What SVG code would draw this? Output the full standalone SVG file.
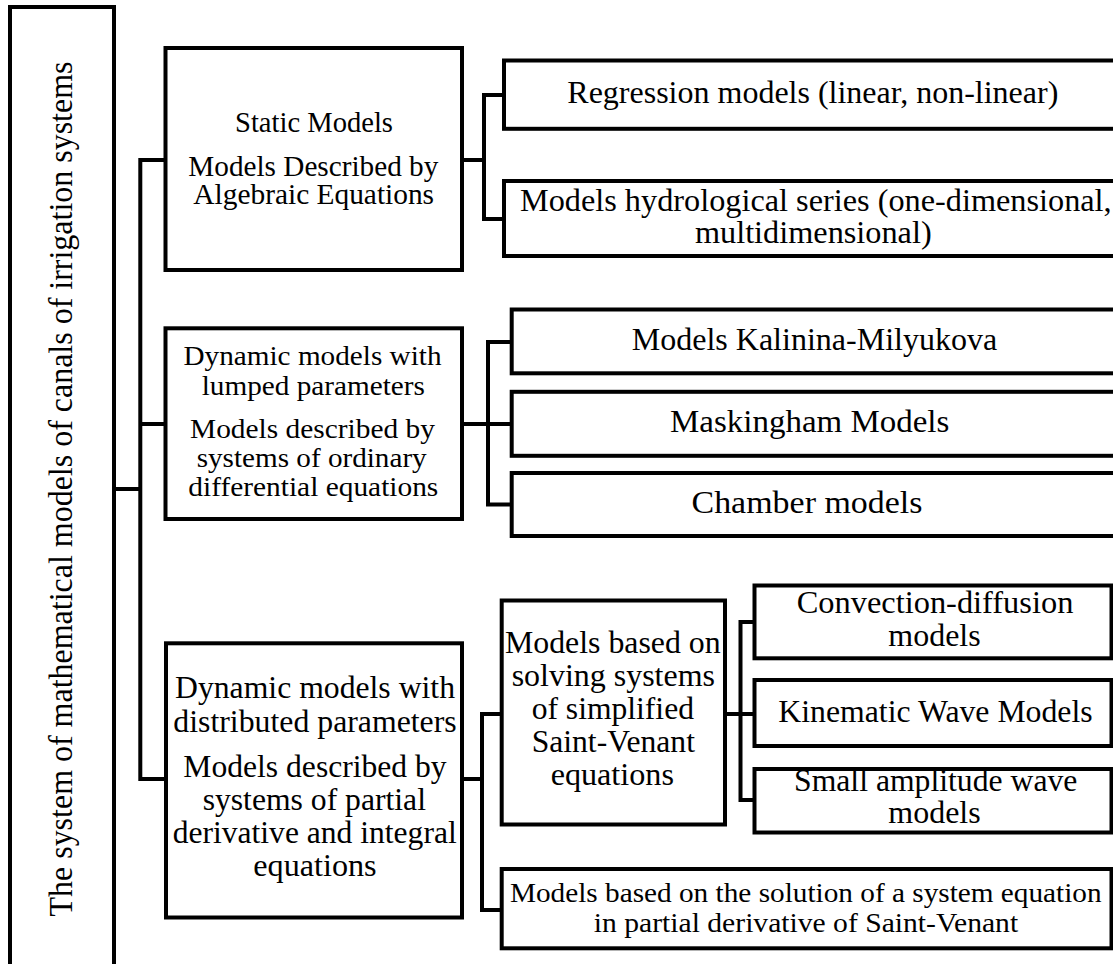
<svg xmlns="http://www.w3.org/2000/svg" width="1113" height="964" viewBox="0 0 1113 964">
<style>
.box{fill:#fff;stroke:#000;stroke-width:4;}
.ln{fill:none;stroke:#000;stroke-width:4;stroke-linejoin:miter;}
.t{fill:#000;text-anchor:middle;font-family:"Liberation Serif",Tinos,"Noto Serif","DejaVu Serif",FreeSerif,Times,serif;}
.s28{font-size:28.5px;}
.s29{font-size:28px;}
.s31{font-size:31px;}
.s32{font-size:32px;}
</style>
<rect width="1113" height="964" fill="#fff"/>
<g id="connectors">
<path class="ln" d="M114 489 H140.3"/>
<path class="ln" d="M165.5 160 H140.3 V779 H166"/>
<path class="ln" d="M140.3 424 H165.5"/>
<path class="ln" d="M462 160 H484"/>
<path class="ln" d="M504 95 H484 V219 H504"/>
<path class="ln" d="M462 424 H511.7"/>
<path class="ln" d="M511.7 342 H488 V504.5 H511.7"/>
<path class="ln" d="M462 779 H482"/>
<path class="ln" d="M501.7 714 H482 V910 H501.7"/>
<path class="ln" d="M725 714 H754.5"/>
<path class="ln" d="M754.5 622 H740.5 V800 H754.5"/>
</g>
<g id="root">
<rect class="box" x="10" y="7" width="104" height="970"/>
<text class="t" font-size="33" transform="translate(71.5,489) rotate(-90)" textLength="855" lengthAdjust="spacingAndGlyphs">The system of mathematical models of canals of irrigation systems</text>
</g>
<g id="static">
<rect class="box" x="165.5" y="48" width="296.5" height="222"/>
<text class="t s28" x="314" y="131.7" textLength="158" lengthAdjust="spacingAndGlyphs">Static Models</text>
<text class="t s28" x="313.3" y="175.7" textLength="250" lengthAdjust="spacingAndGlyphs">Models Described by</text>
<text class="t s28" x="313.7" y="204" textLength="240.7" lengthAdjust="spacingAndGlyphs">Algebraic Equations</text>
</g>
<g id="lumped">
<rect class="box" x="165.5" y="328.3" width="296.5" height="190.7"/>
<text class="t s29" x="312.5" y="365" textLength="258" lengthAdjust="spacingAndGlyphs">Dynamic models with</text>
<text class="t s29" x="313.3" y="394.5" textLength="223.3" lengthAdjust="spacingAndGlyphs">lumped parameters</text>
<text class="t s29" x="312.5" y="437.7" textLength="245" lengthAdjust="spacingAndGlyphs">Models described by</text>
<text class="t s29" x="311.7" y="466.7" textLength="230" lengthAdjust="spacingAndGlyphs">systems of ordinary</text>
<text class="t s29" x="313.3" y="495.5" textLength="250" lengthAdjust="spacingAndGlyphs">differential equations</text>
</g>
<g id="distributed">
<rect class="box" x="166" y="643.3" width="296" height="274.2"/>
<text class="t s32" x="315" y="698.3" textLength="280" lengthAdjust="spacingAndGlyphs">Dynamic models with</text>
<text class="t s32" x="315" y="731.7" textLength="283.3" lengthAdjust="spacingAndGlyphs">distributed parameters</text>
<text class="t s32" x="315" y="776.7" textLength="263.3" lengthAdjust="spacingAndGlyphs">Models described by</text>
<text class="t s32" x="314.3" y="810" textLength="223.3" lengthAdjust="spacingAndGlyphs">systems of partial</text>
<text class="t s32" x="314.7" y="843.3" textLength="284" lengthAdjust="spacingAndGlyphs">derivative and integral</text>
<text class="t s32" x="315" y="876" textLength="123.3" lengthAdjust="spacingAndGlyphs">equations</text>
</g>
<g id="regression">
<rect class="box" x="504" y="60.5" width="620" height="68.3"/>
<text class="t s31" x="812.8" y="103.3" textLength="491" lengthAdjust="spacingAndGlyphs">Regression models (linear, non-linear)</text>
</g>
<g id="hydrological">
<rect class="box" x="504" y="181" width="620" height="75"/>
<text class="t s31" x="815.8" y="210.7" textLength="591.7" lengthAdjust="spacingAndGlyphs">Models hydrological series (one-dimensional,</text>
<text class="t s31" x="813.3" y="243.3" textLength="236.7" lengthAdjust="spacingAndGlyphs">multidimensional)</text>
</g>
<g id="kalinina">
<rect class="box" x="511.7" y="309.5" width="620" height="63.8"/>
<text class="t s31" x="814.5" y="350" textLength="365.6" lengthAdjust="spacingAndGlyphs">Models Kalinina-Milyukova</text>
</g>
<g id="maskingham">
<rect class="box" x="511.7" y="391.8" width="620" height="64"/>
<text class="t s31" x="809.7" y="431.7" textLength="279.3" lengthAdjust="spacingAndGlyphs">Maskingham Models</text>
</g>
<g id="chamber">
<rect class="box" x="511.7" y="473" width="620" height="63"/>
<text class="t s31" x="807" y="513.3" textLength="231" lengthAdjust="spacingAndGlyphs">Chamber models</text>
</g>
<g id="simplified">
<rect class="box" x="501.7" y="600.5" width="223.3" height="224"/>
<text class="t s32" x="612.8" y="653" textLength="215.7" lengthAdjust="spacingAndGlyphs">Models based on</text>
<text class="t s32" x="613.3" y="686" textLength="203.3" lengthAdjust="spacingAndGlyphs">solving systems</text>
<text class="t s32" x="612.8" y="719" textLength="162.3" lengthAdjust="spacingAndGlyphs">of simplified</text>
<text class="t s32" x="613.3" y="752" textLength="163.3" lengthAdjust="spacingAndGlyphs">Saint-Venant</text>
<text class="t s32" x="612.3" y="785" textLength="123.3" lengthAdjust="spacingAndGlyphs">equations</text>
</g>
<g id="full-saint-venant">
<rect class="box" x="501.7" y="869" width="609.8" height="79.3"/>
<text class="t s29" x="805.8" y="901.7" textLength="591.7" lengthAdjust="spacingAndGlyphs">Models based on the solution of a system equation</text>
<text class="t s29" x="806" y="931.7" textLength="424.3" lengthAdjust="spacingAndGlyphs">in partial derivative of Saint-Venant</text>
</g>
<g id="convection">
<rect class="box" x="754.5" y="585.5" width="357" height="72.8"/>
<text class="t s31" x="935" y="612.7" textLength="276.7" lengthAdjust="spacingAndGlyphs">Convection-diffusion</text>
<text class="t s31" x="934.5" y="646" textLength="92.4" lengthAdjust="spacingAndGlyphs">models</text>
</g>
<g id="kinematic">
<rect class="box" x="754.5" y="680" width="357" height="66"/>
<text class="t s31" x="935.5" y="721.7" textLength="314.3" lengthAdjust="spacingAndGlyphs">Kinematic Wave Models</text>
</g>
<g id="small-amplitude">
<rect class="box" x="754.5" y="769" width="357" height="63.5"/>
<text class="t s31" x="935.7" y="790.7" textLength="283.3" lengthAdjust="spacingAndGlyphs">Small amplitude wave</text>
<text class="t s31" x="934.5" y="823.3" textLength="92.4" lengthAdjust="spacingAndGlyphs">models</text>
</g>
</svg>
